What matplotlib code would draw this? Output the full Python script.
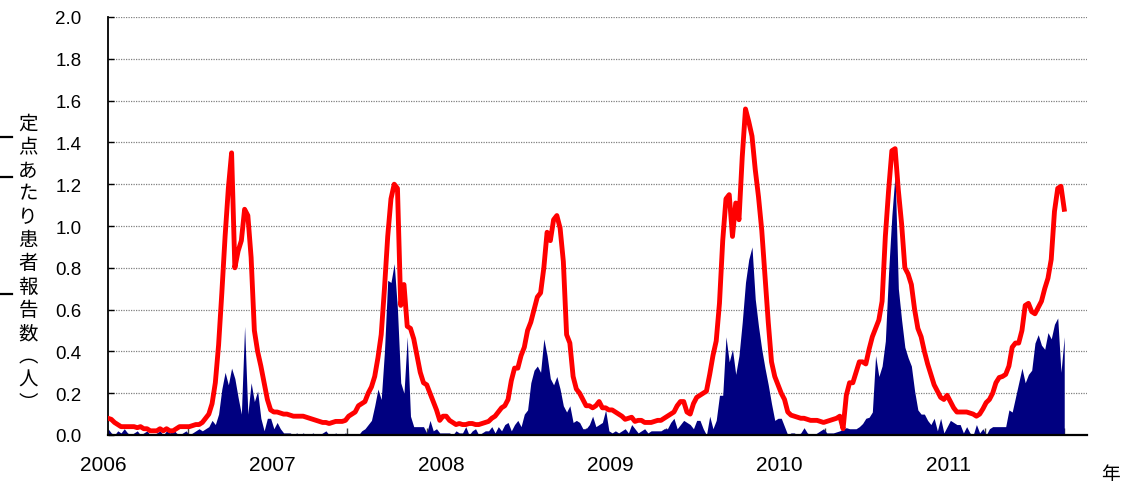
import matplotlib
matplotlib.use("Agg")
import matplotlib.pyplot as plt
import numpy as np
from matplotlib.lines import Line2D

plt.rcParams["font.family"] = ["Liberation Sans", "Noto Sans CJK JP", "DejaVu Sans"]

# ---- データ(週ごと、2006年第1週〜2011年第35週) ----
年ラベル = ["2006", "2007", "2008", "2009", "2010", "2011"]

# 赤線(全国)
赤_2006 = [0.08, 0.075, 0.06, 0.05, 0.04, 0.04, 0.04, 0.04, 0.04, 0.035, 0.04, 0.03, 0.03,
          0.02, 0.02, 0.02, 0.03, 0.02, 0.03, 0.02, 0.02, 0.03, 0.04, 0.04, 0.04, 0.04,
          0.045, 0.05, 0.05, 0.06, 0.08, 0.10, 0.15, 0.25, 0.43, 0.68, 0.95, 1.18, 1.35,
          0.80, 0.88, 0.93, 1.08, 1.05, 0.85, 0.50, 0.40, 0.33, 0.25, 0.17, 0.12, 0.11]
赤_2007 = [0.11, 0.105, 0.10, 0.10, 0.095, 0.09, 0.09, 0.09, 0.09, 0.085, 0.08, 0.075, 0.07,
          0.065, 0.06, 0.06, 0.055, 0.06, 0.065, 0.065, 0.065, 0.07, 0.09, 0.10, 0.11, 0.14,
          0.15, 0.16, 0.20, 0.23, 0.28, 0.37, 0.48, 0.70, 0.95, 1.13, 1.20, 1.18, 0.62,
          0.72, 0.52, 0.51, 0.46, 0.38, 0.30, 0.25, 0.24, 0.20, 0.16, 0.12, 0.07, 0.09]
赤_2008 = [0.09, 0.07, 0.06, 0.05, 0.055, 0.05, 0.05, 0.055, 0.055, 0.05, 0.05, 0.055, 0.06,
          0.065, 0.08, 0.09, 0.11, 0.13, 0.14, 0.17, 0.26, 0.32, 0.32, 0.38, 0.42, 0.50,
          0.54, 0.60, 0.66, 0.68, 0.80, 0.97, 0.93, 1.03, 1.05, 0.99, 0.83, 0.48, 0.44,
          0.28, 0.22, 0.20, 0.17, 0.14, 0.14, 0.13, 0.14, 0.16, 0.13, 0.13, 0.12, 0.12]
赤_2009 = [0.11, 0.10, 0.09, 0.075, 0.08, 0.085, 0.065, 0.07, 0.07, 0.06, 0.06, 0.06, 0.065,
          0.07, 0.07, 0.08, 0.09, 0.10, 0.11, 0.14, 0.16, 0.16, 0.11, 0.10, 0.15, 0.18,
          0.19, 0.20, 0.21, 0.29, 0.38, 0.45, 0.63, 0.93, 1.13, 1.15, 0.95, 1.11, 1.03,
          1.33, 1.56, 1.50, 1.43, 1.27, 1.14, 0.98, 0.76, 0.54, 0.35, 0.28, 0.24, 0.20]
赤_2010 = [0.17, 0.11, 0.095, 0.09, 0.085, 0.08, 0.08, 0.075, 0.07, 0.07, 0.07, 0.065, 0.06,
          0.065, 0.07, 0.075, 0.08, 0.09, 0.03, 0.19, 0.25, 0.25, 0.30, 0.35, 0.35, 0.34,
          0.41, 0.47, 0.51, 0.55, 0.64, 0.95, 1.17, 1.36, 1.37, 1.17, 1.01, 0.80, 0.77,
          0.72, 0.60, 0.51, 0.47, 0.40, 0.34, 0.29, 0.24, 0.21, 0.18, 0.17, 0.19, 0.16]
赤_2011 = [0.13, 0.11, 0.11, 0.11, 0.11, 0.105, 0.10, 0.09, 0.10, 0.125, 0.155, 0.17, 0.20,
          0.25, 0.275, 0.28, 0.29, 0.33, 0.42, 0.44, 0.44, 0.50, 0.62, 0.63, 0.59, 0.58,
          0.61, 0.64, 0.70, 0.75, 0.84, 1.07, 1.18, 1.19, 1.08]

# 紺の面(県)
紺_2006 = [0.03, 0.01, 0.0, 0.02, 0.01, 0.03, 0.01, 0.0, 0.01, 0.02, 0.0, 0.01, 0.02, 0.0,
          0.0, 0.01, 0.02, 0.0, 0.02, 0.01, 0.03, 0.01, 0.0, 0.01, 0.02, 0.0, 0.01, 0.02,
          0.03, 0.02, 0.03, 0.04, 0.07, 0.05, 0.10, 0.22, 0.30, 0.24, 0.32, 0.27, 0.18,
          0.10, 0.52, 0.10, 0.25, 0.16, 0.21, 0.08, 0.02, 0.08, 0.08, 0.03]
紺_2007 = [0.06, 0.03, 0.01, 0.01, 0.01, 0.0, 0.01, 0.0, 0.01, 0.0, 0.0, 0.01, 0.0, 0.0,
          0.01, 0.02, 0.0, 0.0, 0.01, 0.0, 0.0, 0.01, 0.0, 0.0, 0.0, 0.0, 0.02, 0.03,
          0.05, 0.07, 0.14, 0.22, 0.17, 0.40, 0.74, 0.73, 0.82, 0.60, 0.25, 0.20, 0.47,
          0.09, 0.04, 0.04, 0.04, 0.04, 0.01, 0.07, 0.02, 0.03, 0.01, 0.01]
紺_2008 = [0.01, 0.01, 0.0, 0.02, 0.01, 0.01, 0.04, 0.0, 0.02, 0.03, 0.0, 0.01, 0.02, 0.02,
          0.04, 0.01, 0.04, 0.02, 0.05, 0.06, 0.02, 0.05, 0.07, 0.04, 0.10, 0.12, 0.25,
          0.31, 0.33, 0.30, 0.46, 0.38, 0.27, 0.24, 0.28, 0.22, 0.14, 0.11, 0.14, 0.06,
          0.07, 0.06, 0.03, 0.03, 0.05, 0.09, 0.04, 0.05, 0.06, 0.12, 0.02, 0.01]
紺_2009 = [0.02, 0.01, 0.02, 0.03, 0.01, 0.05, 0.03, 0.01, 0.02, 0.03, 0.01, 0.02, 0.02,
          0.02, 0.02, 0.03, 0.03, 0.06, 0.08, 0.03, 0.05, 0.07, 0.06, 0.05, 0.03, 0.07,
          0.07, 0.03, 0.0, 0.09, 0.03, 0.07, 0.19, 0.19, 0.47, 0.35, 0.41, 0.29, 0.38,
          0.54, 0.73, 0.84, 0.90, 0.65, 0.52, 0.41, 0.32, 0.24, 0.15, 0.07, 0.08, 0.08]
紺_2010 = [0.04, 0.0, 0.01, 0.01, 0.0, 0.01, 0.035, 0.01, 0.0, 0.0, 0.01, 0.02, 0.03, 0.01,
          0.01, 0.01, 0.015, 0.02, 0.03, 0.035, 0.03, 0.03, 0.03, 0.04, 0.055, 0.08, 0.085,
          0.11, 0.38, 0.28, 0.33, 0.45, 0.78, 1.05, 1.25, 0.70, 0.55, 0.42, 0.37, 0.33,
          0.21, 0.12, 0.10, 0.10, 0.07, 0.05, 0.08, 0.02, 0.08, 0.01, 0.04, 0.07]
紺_2011 = [0.06, 0.05, 0.05, 0.01, 0.04, 0.01, 0.0, 0.05, 0.01, 0.03, 0.0, 0.03, 0.04, 0.04,
          0.04, 0.04, 0.04, 0.12, 0.11, 0.18, 0.25, 0.32, 0.25, 0.29, 0.31, 0.44, 0.48,
          0.43, 0.41, 0.49, 0.46, 0.53, 0.56, 0.30, 0.47]

全国 = np.array(赤_2006 + 赤_2007 + 赤_2008 + 赤_2009 + 赤_2010 + 赤_2011)
県 = np.array(紺_2006 + 紺_2007 + 紺_2008 + 紺_2009 + 紺_2010 + 紺_2011)
週 = np.arange(len(全国))

W, H = 1144, 485
fig = plt.figure(figsize=(W / 100, H / 100), dpi=100)
fig.patch.set_facecolor("white")
ax = fig.add_axes([108 / W, 1 - 436 / H, 979 / W, 418 / H])

ax.fill_between(週, 0, 県, color="#000080", lw=0, zorder=2)
ax.plot(週, 全国, color="#ff0000", lw=3.5, solid_joinstyle="round", zorder=3)

ax.set_xlim(0, 301)
ax.set_ylim(0, 2.0)
y刻 = np.round(np.arange(0, 2.01, 0.2), 1)
ax.set_yticks(y刻)
ax.set_yticklabels([f"{v:.1f}" for v in y刻], fontsize=13.5)
ax.yaxis.grid(True, color="#808080", lw=0.9, ls=(0, (1, 1)))
ax.set_axisbelow(True)
for s in ("top", "right"):
    ax.spines[s].set_visible(False)
ax.spines["left"].set_linewidth(1.3)
ax.spines["bottom"].set_linewidth(1.6)
ax.tick_params(axis="y", direction="in", length=4, width=1, pad=19)

# x軸: 年ラベルは文字で、目盛りは内向き
ax.set_xticks([])
ax.set_xticks([24.5 * k for k in range(1, 13)], minor=True)
ax.tick_params(axis="x", which="minor", direction="in", length=5, width=1,
               color="#404040", labelbottom=False)
for k, lab in enumerate(年ラベル):
    ax.text(52 * k - 1.5, -0.07, lab, transform=ax.get_xaxis_transform(),
            ha="center", va="center", fontsize=15, clip_on=False)

fig.text(1110 / W, 1 - 475 / H, "年", ha="center", va="center", fontsize=13.5,
         family=["Noto Sans CJK JP", "DejaVu Sans"])

縦ラベル = "定点あたり患者報告数︵人︶"
fig.text(28 / W, 1 - 264 / H, "\n".join(縦ラベル), ha="center", va="center",
         fontsize=14, linespacing=1.14, family=["Noto Sans CJK JP", "DejaVu Sans"])

for y in (138, 178, 295):
    fig.add_artist(Line2D([0, 12 / W], [1 - y / H] * 2, color="black", lw=1.6))

fig.savefig("out.png", dpi=100, facecolor="white")
